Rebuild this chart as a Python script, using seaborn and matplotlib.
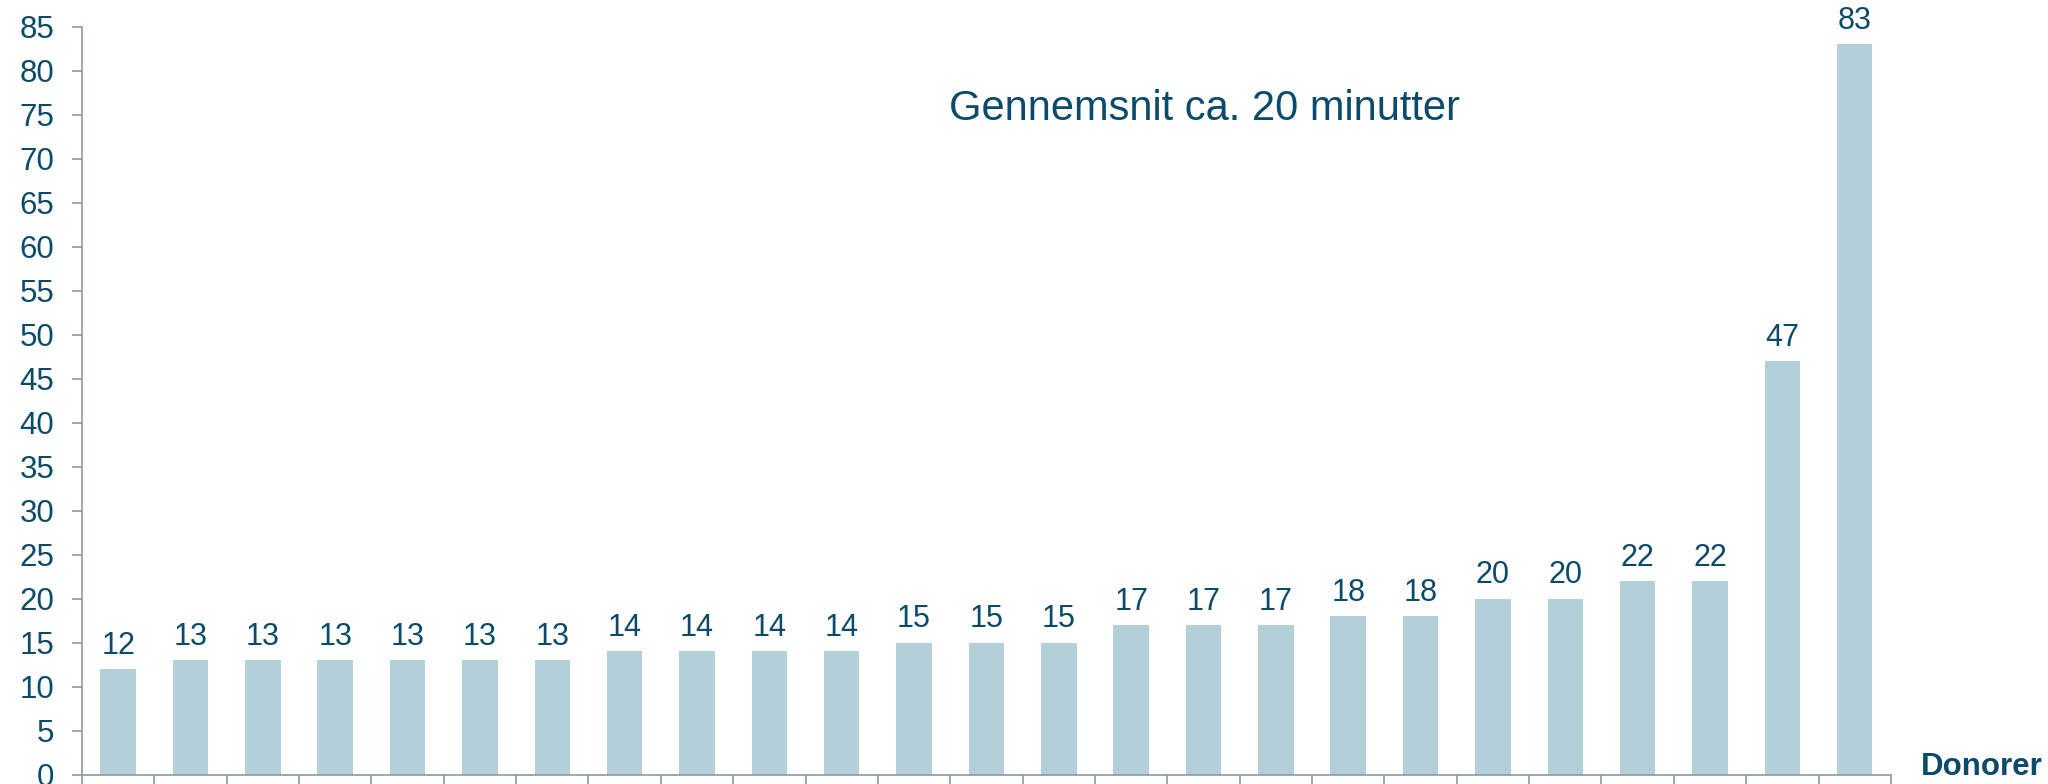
import matplotlib
matplotlib.use("Agg")
import matplotlib.pyplot as plt
import pandas as pd
import seaborn as sns

# minutes per donor, sorted
donors = [str(i) for i in range(1, 26)]
minutes = [12, 13, 13, 13, 13, 13, 13, 14, 14, 14, 14, 15, 15, 15,
           17, 17, 17, 18, 18, 20, 20, 22, 22, 47, 83]
y_ticks = list(range(0, 90, 5))
note = "Gennemsnit ca. 20 minutter"
x_title = "Donorer"

TEXT = "#0B4A6B"
BAR = "#B3CFD7"
AXIS = "#8E98A3"

sns.set_theme(style="white")
plt.rcParams["font.family"] = ["Liberation Sans", "DejaVu Sans"]

df = pd.DataFrame({"donor": donors, "minutes": minutes})

fig = plt.figure(figsize=(20.48, 7.84), dpi=100)
ax = fig.add_axes([0.040, 0.0119, 0.8833, 0.954])

sns.barplot(data=df, x="donor", y="minutes", color=BAR, saturation=1,
            width=0.49, ax=ax, linewidth=0)

ax.bar_label(ax.containers[0], labels=[str(v) for v in minutes],
             padding=6, fontsize=22, color=TEXT)

ax.set_ylim(0, 85)
ax.set_xlim(-0.5, len(donors) - 0.5)
ax.set_yticks(y_ticks)
ax.set_xticks([i - 0.5 for i in range(len(donors) + 1)])
ax.set_xticklabels([])
ax.set_xlabel("")
ax.set_ylabel("")

for side in ["top", "right"]:
    ax.spines[side].set_visible(False)
for side in ["left", "bottom"]:
    ax.spines[side].set_color(AXIS)
    ax.spines[side].set_linewidth(1.2)

ax.tick_params(axis="y", direction="out", length=7, width=1.2, color=AXIS,
               labelsize=22.5, labelcolor=TEXT, pad=13, left=True)
ax.tick_params(axis="x", direction="out", length=7, width=1.2, color=AXIS,
               bottom=True)

fig.text(0.588, 0.847, note, ha="center", va="baseline", fontsize=30,
         color=TEXT)
fig.text(0.938, 0.0115, x_title, ha="left", va="baseline", fontsize=22.5,
         fontweight="bold", color=TEXT)

fig.savefig("out.png", dpi=100)
plt.close(fig)
